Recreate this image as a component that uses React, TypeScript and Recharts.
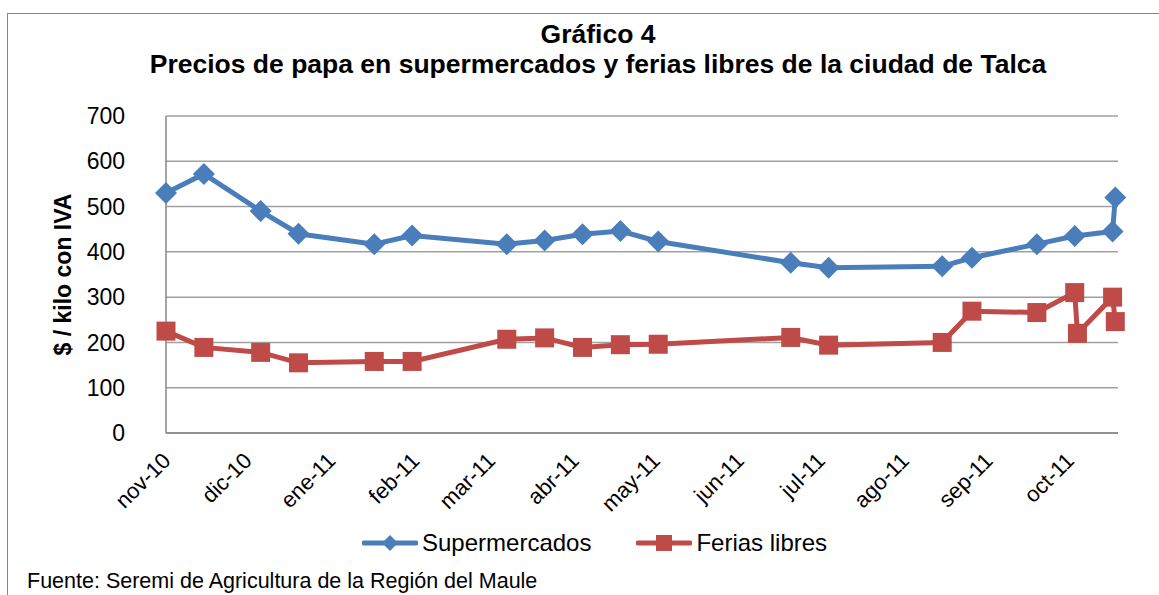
import React from 'react';
import { LineChart, Line, XAxis, YAxis, CartesianGrid, Legend } from 'recharts';

// Supermercados: fechas de muestreo y precio ($/kilo con IVA)
const superDates = [
  '2010-11-01', '2010-11-15', '2010-12-06', '2010-12-20', '2011-01-17', '2011-01-31',
  '2011-03-07', '2011-03-21', '2011-04-04', '2011-04-18', '2011-05-02', '2011-06-20',
  '2011-07-04', '2011-08-15', '2011-08-26', '2011-09-19', '2011-10-03', '2011-10-17',
  '2011-10-18',
];
const superPrices = [530, 572, 490, 440, 417, 436, 417, 425, 439, 446, 423, 376, 365, 368, 387, 417, 435, 445, 520];

// Ferias libres
const feriaDates = [
  '2010-11-01', '2010-11-15', '2010-12-06', '2010-12-20', '2011-01-17', '2011-01-31',
  '2011-03-07', '2011-03-21', '2011-04-04', '2011-04-18', '2011-05-02', '2011-06-20',
  '2011-07-04', '2011-08-15', '2011-08-26', '2011-09-19', '2011-10-03', '2011-10-04',
  '2011-10-17', '2011-10-18',
];
const feriaPrices = [225, 189, 178, 155, 158, 158, 207, 210, 189, 195, 196, 211, 194, 200, 269, 266, 310, 220, 300, 246];

const monthStarts = [
  '2010-11-01', '2010-12-01', '2011-01-01', '2011-02-01', '2011-03-01', '2011-04-01',
  '2011-05-01', '2011-06-01', '2011-07-01', '2011-08-01', '2011-09-01', '2011-10-01',
];
const monthLabels = ['nov-10', 'dic-10', 'ene-11', 'feb-11', 'mar-11', 'abr-11', 'may-11', 'jun-11', 'jul-11', 'ago-11', 'sep-11', 'oct-11'];
const axisStart = '2010-11-01';
const axisEnd = '2011-10-19';
const yTicks = [0, 100, 200, 300, 400, 500, 600, 700];

const FONT = '"Liberation Sans", Arial, sans-serif';
const BLUE = '#4A7EBB';
const RED = '#BE4B48';
const GRID = '#a0a0a0';

const toTime = (d: string) => new Date(d).getTime();

const superData = superDates.map((d, i) => ({ t: toTime(d), v: superPrices[i] }));
const feriaData = feriaDates.map((d, i) => ({ t: toTime(d), v: feriaPrices[i] }));
const tickTimes = monthStarts.map(toTime);

const MonthTick = (props: any) => {
  const { x, y, payload } = props;
  const label = monthLabels[tickTimes.indexOf(payload.value)];
  return (
    <text
      transform={`translate(${x + 6},${y + 29}) rotate(-45)`}
      textAnchor="end"
      fontSize={22}
      fontFamily={FONT}
      fill="#000"
    >
      {label}
    </text>
  );
};

const Diamond = (props: any) => {
  const { cx, cy, index } = props;
  if (cx == null || cy == null) return <g key={index} />;
  const r = 11;
  return <polygon key={index} points={`${cx},${cy - r} ${cx + r},${cy} ${cx},${cy + r} ${cx - r},${cy}`} fill={BLUE} />;
};

const Square = (props: any) => {
  const { cx, cy, index } = props;
  if (cx == null || cy == null) return <g key={index} />;
  const s = 19;
  return <rect key={index} x={cx - s / 2} y={cy - s / 2} width={s} height={s} fill={RED} />;
};

const YLabel = (props: any) => {
  const { viewBox } = props;
  const cx = viewBox.x - 3;
  const cy = viewBox.y + viewBox.height / 2;
  return (
    <text
      x={cx}
      y={cy}
      transform={`rotate(-90, ${cx}, ${cy})`}
      textAnchor="middle"
      dominantBaseline="central"
      fontSize={23}
      fontWeight="bold"
      fontFamily={FONT}
      fill="#000"
    >
      $ / kilo con IVA
    </text>
  );
};

const LegendContent = () => {
  const items = [
    { name: 'Supermercados', color: BLUE, shape: 'diamond' },
    { name: 'Ferias libres', color: RED, shape: 'square' },
  ];
  return (
    <div style={{ display: 'flex', alignItems: 'center', fontFamily: FONT, fontSize: 24, color: '#000' }}>
      {items.map((it, i) => (
        <div key={it.name} style={{ display: 'flex', alignItems: 'center', marginLeft: i === 0 ? 0 : 45 }}>
          <svg width={56} height={24}>
            <line x1={2} y1={12} x2={54} y2={12} stroke={it.color} strokeWidth={5} strokeLinecap="round" />
            {it.shape === 'diamond' ? (
              <polygon points="28,4 36,12 28,20 20,12" fill={it.color} />
            ) : (
              <rect x={20} y={4} width={16} height={16} fill={it.color} />
            )}
          </svg>
          <span style={{ marginLeft: 4, lineHeight: '28px' }}>{it.name}</span>
        </div>
      ))}
    </div>
  );
};

export default function App() {
  return (
    <div style={{ position: 'absolute', left: 0, top: 0, width: 1159, height: 595, overflow: 'hidden', background: '#fff' }}>
      <div
        style={{
          position: 'absolute', left: 7, top: 13, width: 1200, height: 700,
          border: '1.5px solid #868686', boxSizing: 'border-box',
        }}
      />
      <div
        style={{
          position: 'absolute', left: 0, top: 19, width: 1196, textAlign: 'center',
          fontFamily: FONT, fontWeight: 'bold', fontSize: 26.5, lineHeight: '30px', color: '#000',
        }}
      >
        <div>Gráfico 4</div>
        <div>Precios de papa en supermercados y ferias libres de la ciudad de Talca</div>
      </div>
      <div style={{ position: 'absolute', left: 0, top: 0 }}>
        <LineChart width={1159} height={595} margin={{ top: 116, right: 41, bottom: 102, left: 66 }}>
          <CartesianGrid vertical={false} stroke={GRID} strokeWidth={1.5} />
          <XAxis
            type="number"
            dataKey="t"
            domain={[toTime(axisStart), toTime(axisEnd)]}
            ticks={tickTimes}
            tick={<MonthTick />}
            tickLine={false}
            tickSize={0}
            tickMargin={0}
            interval={0}
            height={60}
            axisLine={{ stroke: '#868686', strokeWidth: 1.5 }}
          />
          <YAxis
            type="number"
            domain={[0, 700]}
            ticks={yTicks}
            width={100}
            tickLine={false}
            tickSize={0}
            tickMargin={41}
            axisLine={{ stroke: '#868686', strokeWidth: 1.5 }}
            tick={{ fontSize: 23, fill: '#000', fontFamily: FONT }}
            label={<YLabel />}
          />
          <Legend
            verticalAlign="middle"
            align="center"
            layout="horizontal"
            content={<LegendContent />}
            wrapperStyle={{ top: 529, left: 362, width: 'auto' }}
          />
          <Line
            data={superData}
            dataKey="v"
            name="Supermercados"
            stroke={BLUE}
            strokeWidth={5}
            dot={<Diamond />}
            activeDot={false}
            isAnimationActive={false}
          />
          <Line
            data={feriaData}
            dataKey="v"
            name="Ferias libres"
            stroke={RED}
            strokeWidth={5}
            dot={<Square />}
            activeDot={false}
            isAnimationActive={false}
          />
        </LineChart>
      </div>
      <div
        style={{
          position: 'absolute', left: 27, top: 569, fontFamily: FONT, fontSize: 21.5,
          lineHeight: '24px', color: '#000', whiteSpace: 'nowrap',
        }}
      >
        Fuente: Seremi de Agricultura de la Región del Maule
      </div>
    </div>
  );
}
